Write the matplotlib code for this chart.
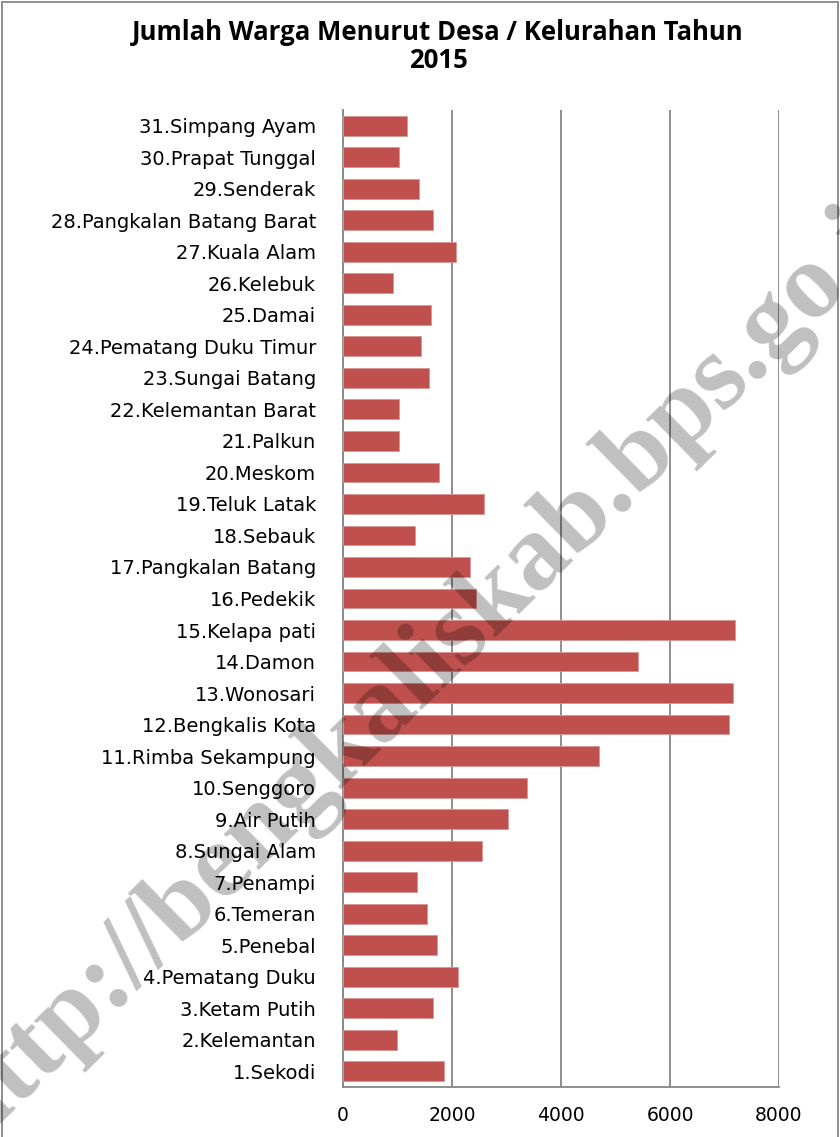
import numpy as np
import matplotlib
matplotlib.use("Agg")
import matplotlib.pyplot as plt
from matplotlib.patches import Rectangle
from matplotlib.font_manager import FontProperties

# Jumlah warga per desa / kelurahan, 2015
villages = [
    "1.Sekodi", "2.Kelemantan", "3.Ketam Putih", "4.Pematang Duku",
    "5.Penebal", "6.Temeran", "7.Penampi", "8.Sungai Alam",
    "9.Air Putih", "10.Senggoro", "11.Rimba Sekampung", "12.Bengkalis Kota",
    "13.Wonosari", "14.Damon", "15.Kelapa pati", "16.Pedekik",
    "17.Pangkalan Batang", "18.Sebauk", "19.Teluk Latak", "20.Meskom",
    "21.Palkun", "22.Kelemantan Barat", "23.Sungai Batang",
    "24.Pematang Duku Timur", "25.Damai", "26.Kelebuk", "27.Kuala Alam",
    "28.Pangkalan Batang Barat", "29.Senderak", "30.Prapat Tunggal",
    "31.Simpang Ayam",
]
warga = [
    1847, 991, 1657, 2104, 1731, 1541, 1364, 2550, 3034, 3370,
    4703, 7089, 7162, 5419, 7199, 2440, 2324, 1321, 2587, 1768,
    1028, 1028, 1584, 1437, 1621, 911, 2068, 1657, 1400, 1028, 1174,
]
xticks = [0, 2000, 4000, 6000, 8000]

W, H = 840, 1137
fig = plt.figure(figsize=(W / 100, H / 100), dpi=100)
ax = fig.add_axes([343 / W, 1 - 1087 / H, (779 - 343) / W, (1087 - 110) / H])

pos = range(len(villages))
ax.barh(pos, warga, height=0.63, color="#C0504D", edgecolor="#D99694",
        linewidth=0.6, zorder=3)

ax.set_xlim(0, 8000)
ax.set_ylim(-0.5, len(villages) - 0.5)
ax.set_xticks(xticks)
ax.set_yticks(list(pos))
ax.set_yticklabels(villages, fontsize=14, family="DejaVu Sans")
ax.tick_params(axis="y", length=0, pad=19.5)
ax.tick_params(axis="x", length=0, pad=14, labelsize=13.5)
ax.grid(axis="x", color="#868686", linewidth=1.3, zorder=0)

for s in ["top", "right"]:
    ax.spines[s].set_visible(False)
for s in ["left", "bottom"]:
    ax.spines[s].set_color("#868686")
    ax.spines[s].set_linewidth(1.3)

fig.text(438 / W, 1 - 32 / H, "Jumlah Warga Menurut Desa / Kelurahan Tahun",
         ha="center", va="center", fontsize=18.5, fontweight="bold",
         family="Open Sans")
fig.text(438 / W, 1 - 61 / H, "2015", ha="center", va="center",
         fontsize=18.5, fontweight="bold", family="Open Sans")

# chart area border (bottom edge falls outside the image)
fig.add_artist(Rectangle((2 / W, -0.01), 1 - 4 / W, 1.01 - 2 / H,
                         transform=fig.transFigure, fill=False,
                         edgecolor="#868686", linewidth=1.3))

# watermark: place it so the dot in "kab.bps" lands where it is in the image
wm = "http://bengkaliskab.bps.go.id"
fp = FontProperties(family="Liberation Serif", weight="bold", size=78)
ang = 44.5
renderer = fig.canvas.get_renderer()
em = 78 * fig.dpi / 72
adv, _, _ = renderer.get_text_width_height_descent("http://bengkaliskab.", fp,
                                                   ismath=False)
along = adv - 0.125 * em
up = 0.07 * em
t = np.radians(ang)
u = np.array([np.cos(t), np.sin(t)])
n = np.array([-np.sin(t), np.cos(t)])
dot = np.array([622, H - 500])
start = dot - along * u - up * n
fig.text(start[0] / W, start[1] / H, wm, ha="left", va="baseline",
         rotation=ang, rotation_mode="anchor", fontproperties=fp,
         color="black", alpha=0.25, zorder=10)

fig.savefig("out.png", dpi=100)
